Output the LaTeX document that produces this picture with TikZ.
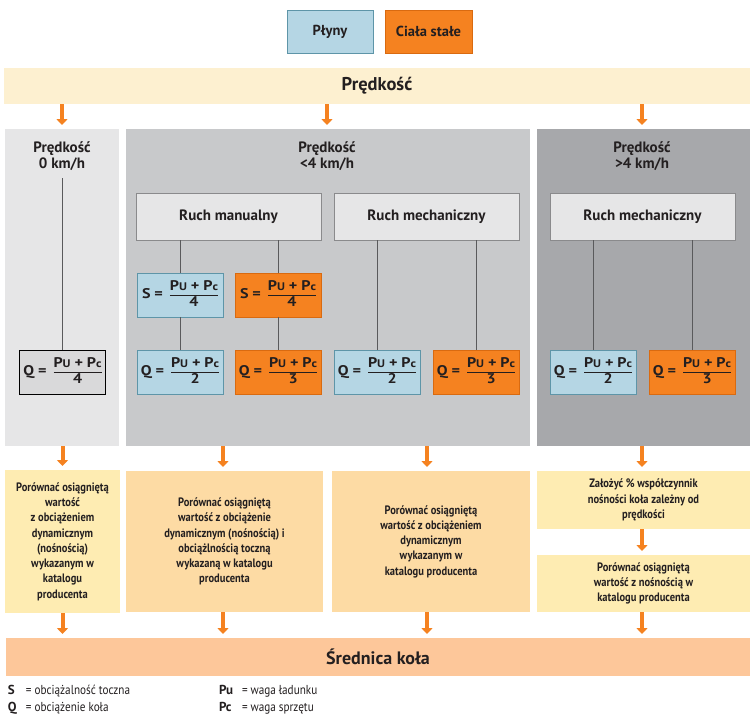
\documentclass[tikz,border=0pt]{standalone}
\usepackage{fontspec}
\usepackage{array}
\setmainfont{PT Sans}
\newfontfamily\cond[FakeStretch=0.86]{PT Sans}
\newfontfamily\wide[FakeStretch=1.15]{PT Sans}
\usetikzlibrary{arrows.meta}
\definecolor{txt}{HTML}{231F20}
\definecolor{blfill}{HTML}{B5D6E4}
\definecolor{bldraw}{HTML}{5E95A8}
\definecolor{orfill}{HTML}{F58220}
\definecolor{ordraw}{HTML}{D96A10}
\definecolor{cream}{HTML}{FDF0D0}
\definecolor{pan1}{HTML}{E6E6E7}
\definecolor{pan2}{HTML}{C8C9CB}
\definecolor{pan3}{HTML}{A7A8AB}
\definecolor{ruchfill}{HTML}{E6E6E7}
\definecolor{ruchdraw}{HTML}{8A8A8C}
\definecolor{qgray}{HTML}{D9D9DA}
\definecolor{yel}{HTML}{FEECB2}
\definecolor{peach}{HTML}{FDDBA4}
\definecolor{salmon}{HTML}{FDC79A}
\definecolor{lnk}{HTML}{5A5A5C}
\newcommand\lsub[1]{{\fontsize{11}{11}\selectfont #1}}
\newcommand\frml[2]{#1\;=\enspace{\setlength\arrayrulewidth{0.9pt}\setlength\extrarowheight{1pt}\begin{tabular}{@{}c@{}}P\lsub{U}\;+\;P\lsub{c}\\\hline #2\end{tabular}}}
\begin{document}
\begin{tikzpicture}[x=1pt,y=-1pt,
  every node/.style={text=txt, inner sep=0pt, outer sep=0pt},
  bluebox/.style={fill=blfill, draw=bldraw, line width=0.8pt},
  orbox/.style={fill=orfill, draw=ordraw, line width=0.8pt},
  ruchbox/.style={fill=ruchfill, draw=ruchdraw, line width=0.8pt, minimum width=185pt, minimum height=47pt, font=\bfseries\fontsize{15}{17}\selectfont},
  frm/.style={minimum width=86pt, minimum height=44pt, font=\wide\bfseries\fontsize{14}{15}\selectfont},
  ptitle/.style={align=center, font=\bfseries\fontsize{15}{16.5}\selectfont},
  btext/.style={align=center, font=\cond\bfseries\fontsize{12.2}{15.3}\selectfont},
  link/.style={draw=lnk, line width=0.8pt},
  arr/.style={draw=orfill, line width=4pt, -{Triangle[width=11pt,length=6pt]}, shorten >=4pt},
  legk/.style={anchor=base west, font=\bfseries\fontsize{13}{14}\selectfont},
  legv/.style={anchor=base west, font=\cond\fontsize{13}{14}\selectfont}]
\useasboundingbox (0,0) rectangle (756,723);
\fill[white] (0,0) rectangle (756,723);

% top legend
\node[bluebox, minimum width=86pt, minimum height=43pt, font=\bfseries\fontsize{14.5}{16}\selectfont] (plyny) at (330,31.5) {Płyny};
\node[orbox, minimum width=87pt, minimum height=43pt, font=\bfseries\fontsize{14.5}{16}\selectfont] (ciala) at (428.5,31.5) {Ciała stałe};

% speed bar
\node[fill=cream, minimum width=746pt, minimum height=36pt, font=\bfseries\fontsize{18.5}{20}\selectfont] (pred) at (377,86) {Prędkość};

% panels
\node[fill=pan1, minimum width=114pt, minimum height=317pt] (p1) at (62,287.5) {};
\node[fill=pan2, minimum width=404pt, minimum height=317pt] (p2) at (328,287.5) {};
\node[fill=pan3, minimum width=213pt, minimum height=317pt] (p3) at (643.5,287.5) {};

\node[ptitle] (t1) at (62,156) {Prędkość\\0 km/h};
\node[ptitle] (t2) at (327,156) {Prędkość\\<4 km/h};
\node[ptitle] (t3) at (642,156) {Prędkość\\>4 km/h};

% movement boxes
\node[ruchbox] (rm) at (228.5,216.5) {Ruch manualny};
\node[ruchbox] (mm) at (426.5,216.5) {Ruch mechaniczny};
\node[ruchbox] (mr) at (642.5,216.5) {Ruch mechaniczny};

% formula boxes
\node[frm, bluebox] (s1) at (180,295) {\frml{S}{4}};
\node[frm, orbox] (s2) at (278,295) {\frml{S}{4}};
\node[frm, fill=qgray, draw=black, line width=0.8pt] (q0) at (62.5,372) {\frml{Q}{4}};
\node[frm, bluebox] (q1) at (180,372) {\frml{Q}{2}};
\node[frm, orbox] (q2) at (278,372) {\frml{Q}{3}};
\node[frm, bluebox] (q3) at (377,372) {\frml{Q}{2}};
\node[frm, orbox] (q4) at (476,372) {\frml{Q}{3}};
\node[frm, bluebox] (q5) at (593,372) {\frml{Q}{2}};
\node[frm, orbox] (q6) at (692,372) {\frml{Q}{3}};

% connector lines
\coordinate (c0) at (62.5,178);
\draw[link] (c0) -- (q0.north);
\draw[link] (s1.north |- rm.south) -- (s1.north);
\draw[link] (s1.south) -- (q1.north);
\draw[link] (s2.north |- rm.south) -- (s2.north);
\draw[link] (s2.south) -- (q2.north);
\draw[link] (q3.north |- mm.south) -- (q3.north);
\draw[link] (q4.north |- mm.south) -- (q4.north);
\draw[link] (q5.north |- mr.south) -- (q5.north);
\draw[link] (q6.north |- mr.south) -- (q6.north);

% bottom boxes
\node[fill=yel, minimum width=115pt, minimum height=143pt] (b1) at (62.5,541.5) {};
\node[btext] at (b1.center) {Porównać osiągniętą\\wartość\\z obciążeniem\\dynamicznym\\(nośnością)\\wykazanym w\\katalogu\\producenta};
\node[fill=peach, minimum width=197pt, minimum height=141pt] (b2) at (224.5,541.5) {};
\node[btext] at (b2.center) {Porównać osiągniętą\\wartość z obciążenie\\dynamicznym (nośnością) i\\obciążlnością toczną\\wykazaną w katalogu\\producenta};
\node[fill=peach, minimum width=198pt, minimum height=141pt] (b3) at (431,541.5) {};
\node[btext] at (b3.center) {Porównać osiągniętą\\wartość z obciążeniem\\dynamicznym\\wykazanym w\\katalogu producenta};
\node[fill=yel, minimum width=213pt, minimum height=58pt] (b4) at (643.5,500) {};
\node[btext] at (b4.center) {Założyć \% współczynnik\\nośności koła zależny od\\prędkości};
\node[fill=yel, minimum width=213pt, minimum height=57pt] (b5) at (643.5,583.5) {};
\node[btext] at (b5.center) {Porównać osiągniętą\\wartość z nośnością w\\katalogu producenta};

\node[fill=salmon, minimum width=744pt, minimum height=38pt, font=\bfseries\fontsize{18}{20}\selectfont] (sr) at (378,657) {Średnica koła};

% arrows
\draw[arr] (p1.north |- pred.south) -- (p1.north);
\draw[arr] (327,104) coordinate (a2) -- (a2 |- p2.north);
\draw[arr] (642,104) coordinate (a3) -- (a3 |- p3.north);
\draw[arr] (b1.north |- p1.south) -- (b1.north);
\draw[arr] (223,446) coordinate (a5) -- (a5 |- b2.north);
\draw[arr] (427,446) coordinate (a6) -- (a6 |- b3.north);
\draw[arr] (642,446) coordinate (a7) -- (a7 |- b4.north);
\draw[arr] (a7 |- b4.south) -- (a7 |- b5.north);
\draw[arr] (b1.south) -- (b1.south |- sr.north);
\draw[arr] (a5 |- b2.south) -- (a5 |- sr.north);
\draw[arr] (a6 |- b3.south) -- (a6 |- sr.north);
\draw[arr] (a7 |- b5.south) -- (a7 |- sr.north);

% legend
\node[legk] (kS) at (8,694) {S};
\node[legv] (vS) at (26,694) {= obciążalność toczna};
\node[legk] (kQ) at (8,711) {Q};
\node[legv] (vQ) at (26,711) {= obciążenie koła};
\node[legk] (kPu) at (219,694) {Pu};
\node[legv] (vPu) at (242,694) {= waga ładunku};
\node[legk] (kPc) at (219,711) {Pc};
\node[legv] (vPc) at (242,711) {= waga sprzętu};
\end{tikzpicture}
\end{document}
